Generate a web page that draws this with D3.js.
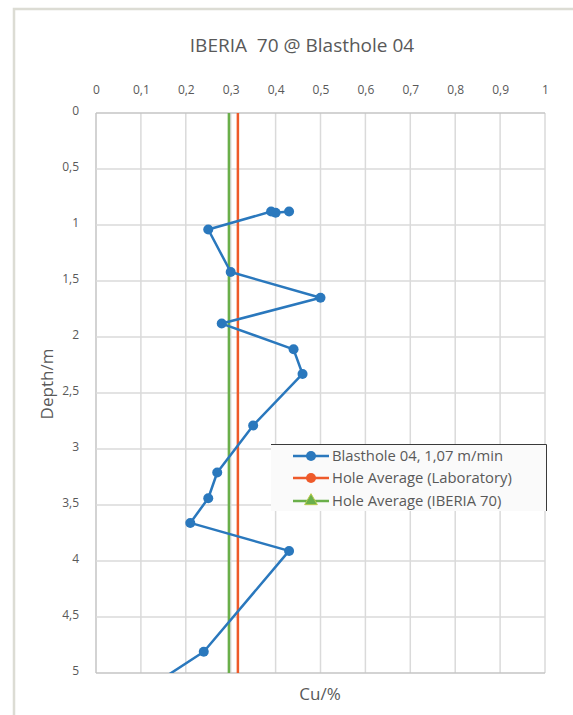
<!DOCTYPE html>
<html>
<head>
<meta charset="utf-8">
<script src="https://cdn.jsdelivr.net/npm/d3@7"></script>
<style>
  html, body { margin: 0; padding: 0; background: #fff; }
  svg { display: block; font-family: "Open Sans", sans-serif; }
</style>
</head>
<body>
<div id="chart"></div>
<script>
// data
var depths = [0.88, 0.89, 0.88, 1.04, 1.42, 1.65, 1.88, 2.11, 2.33, 2.79, 3.21, 3.44, 3.66, 3.91, 4.81, 5.15];
var cuValues = [0.43, 0.40, 0.39, 0.25, 0.30, 0.50, 0.28, 0.44, 0.46, 0.35, 0.27, 0.25, 0.21, 0.43, 0.24, 0.11];
var labAverage = 0.316;
var iberiaAverage = 0.296;
var xTicks = [0, 0.1, 0.2, 0.3, 0.4, 0.5, 0.6, 0.7, 0.8, 0.9, 1];
var yTicks = [0, 0.5, 1, 1.5, 2, 2.5, 3, 3.5, 4, 4.5, 5];
var seriesNames = ["Blasthole 04, 1,07 m/min", "Hole Average (Laboratory)", "Hole Average (IBERIA 70)"];
var seriesColors = ["#2a78bd", "#ee5a2a", "#6aaf4a"];

(function () {
  var width = 573, height = 715,
      plotLeft = 96, plotRight = 545, plotTop = 113, plotBottom = 673;

  var fmt = function(d) { return String(d).replace(".", ","); };

  var svg = d3.select("#chart").append("svg")
      .attr("width", width)
      .attr("height", height);

  // outer frame (only top and left visible)
  svg.append("path")
      .attr("d", "M14,716 L14,9 L574,9")
      .attr("fill", "none")
      .attr("stroke", "#dcdcd4")
      .attr("stroke-width", 2.5);

  var x = d3.scaleLinear().domain([0, 1]).range([plotLeft, plotRight]);
  var y = d3.scaleLinear().domain([0, 5]).range([plotTop, plotBottom]);

  // title
  svg.append("text")
      .attr("x", 302)
      .attr("y", 52)
      .attr("text-anchor", "middle")
      .attr("fill", "#595959")
      .style("font-size", "19px")
      .style("white-space", "pre")
      .text("IBERIA  70 @ Blasthole 04");

  // gridlines
  svg.append("g").selectAll("line")
      .data(xTicks)
    .enter().append("line")
      .attr("x1", function(d) { return x(d); })
      .attr("x2", function(d) { return x(d); })
      .attr("y1", plotTop).attr("y2", plotBottom)
      .attr("stroke", function(d) { return d === 0 ? "#c4c4c4" : "#dadada"; })
      .attr("stroke-width", 1.5);

  svg.append("g").selectAll("line")
      .data(yTicks)
    .enter().append("line")
      .attr("x1", plotLeft).attr("x2", plotRight)
      .attr("y1", function(d) { return y(d); })
      .attr("y2", function(d) { return y(d); })
      .attr("stroke", function(d) { return (d === 0 || d === 5) ? "#c4c4c4" : "#dadada"; })
      .attr("stroke-width", 1.5);

  // axes (labels only, Excel style)
  var xAxis = svg.append("g")
      .attr("transform", "translate(0," + (plotTop - 16) + ")")
      .call(d3.axisTop(x).tickValues(xTicks).tickFormat(fmt).tickSize(0));
  xAxis.select(".domain").remove();
  xAxis.selectAll("text").attr("fill", "#595959").style("font-size", "12px").style("font-family", "Open Sans");

  var yAxis = svg.append("g")
      .attr("transform", "translate(" + (plotLeft - 14) + ",0)")
      .call(d3.axisLeft(y).tickValues(yTicks).tickFormat(fmt).tickSize(0));
  yAxis.select(".domain").remove();
  yAxis.selectAll("text").attr("fill", "#595959").style("font-size", "12px").style("font-family", "Open Sans")
      .attr("dy", "0.15em");

  // axis titles
  svg.append("text")
      .attr("transform", "translate(53,384) rotate(-90)")
      .attr("text-anchor", "middle")
      .attr("fill", "#595959")
      .style("font-size", "17px")
      .text("Depth/m");

  svg.append("text")
      .attr("x", 320)
      .attr("y", 700)
      .attr("text-anchor", "middle")
      .attr("fill", "#595959")
      .style("font-size", "17px")
      .text("Cu/%");

  // clip to plot area
  svg.append("clipPath").attr("id", "plotclip")
    .append("rect")
      .attr("x", plotLeft).attr("y", plotTop)
      .attr("width", plotRight - plotLeft).attr("height", plotBottom - plotTop);

  var plot = svg.append("g").attr("clip-path", "url(#plotclip)");

  // average lines
  plot.append("line")
      .attr("x1", x(iberiaAverage)).attr("x2", x(iberiaAverage))
      .attr("y1", y(0)).attr("y2", y(5))
      .attr("stroke", seriesColors[2]).attr("stroke-width", 2.5);

  plot.append("line")
      .attr("x1", x(labAverage)).attr("x2", x(labAverage))
      .attr("y1", y(0)).attr("y2", y(5))
      .attr("stroke", seriesColors[1]).attr("stroke-width", 2.5);

  // blasthole series
  var points = depths.map(function(d, i) { return {depth: d, cu: cuValues[i]}; });

  var line = d3.line()
      .x(function(d) { return x(d.cu); })
      .y(function(d) { return y(d.depth); });

  plot.append("path")
      .datum(points)
      .attr("d", line)
      .attr("fill", "none")
      .attr("stroke", seriesColors[0])
      .attr("stroke-width", 2.5)
      .attr("stroke-linejoin", "round");

  plot.selectAll("circle")
      .data(points)
    .enter().append("circle")
      .attr("cx", function(d) { return x(d.cu); })
      .attr("cy", function(d) { return y(d.depth); })
      .attr("r", 5)
      .attr("fill", seriesColors[0]);

  // legend
  var legend = svg.append("g").attr("transform", "translate(271,444)");
  legend.append("rect")
      .attr("width", 276).attr("height", 67)
      .attr("fill", "#fafafa");
  legend.append("path")
      .attr("d", "M0,0.5 L275.5,0.5 L275.5,67")
      .attr("fill", "none")
      .attr("stroke", "#3a3a3a")
      .attr("stroke-width", 1);

  var rows = legend.selectAll("g.row")
      .data(seriesNames)
    .enter().append("g")
      .attr("class", "row")
      .attr("transform", function(d, i) { return "translate(0," + [12, 34, 57][i] + ")"; });

  rows.append("line")
      .attr("x1", 22).attr("x2", 58)
      .attr("stroke", function(d, i) { return seriesColors[i]; })
      .attr("stroke-width", 2.5);

  rows.each(function(d, i) {
    var g = d3.select(this);
    if (i < 2) {
      g.append("circle").attr("cx", 40).attr("r", 5).attr("fill", seriesColors[i]);
    } else {
      g.append("path")
        .attr("d", d3.symbol().type(d3.symbolTriangle).size(70))
        .attr("transform", "translate(40,0)")
        .attr("fill", seriesColors[i])
        .attr("stroke", "#b5c94a").attr("stroke-width", 1);
    }
  });

  rows.append("text")
      .attr("x", 61)
      .attr("dy", "0.35em")
      .attr("fill", "#595959")
      .style("font-size", "14.8px")
      .text(function(d) { return d; });
})();
</script>
</body>
</html>
